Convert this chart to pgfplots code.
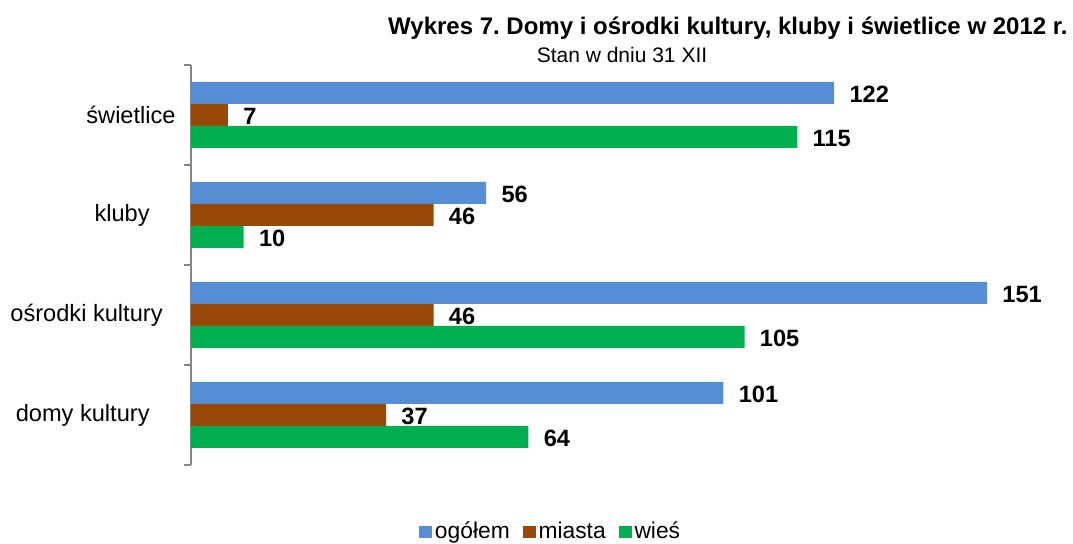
\documentclass[border=0pt]{standalone}
\usepackage{pgfplots}
\pgfplotsset{compat=1.18}
\usepackage{fontspec}
\setmainfont{Liberation Sans}
\frenchspacing
\definecolor{cblue}{HTML}{558ED5}
\definecolor{cbrown}{HTML}{984807}
\definecolor{cgreen}{HTML}{00B050}
\definecolor{axisgray}{HTML}{868686}
\pgfplotsset{sqleg/.style={legend image code/.code={\fill[##1] (0pt,-3.2pt) rectangle (6.4pt,3.2pt);}}}
\begin{document}
\begin{tikzpicture}
\path[use as bounding box] (-95.5pt,-39.5pt) rectangle (441pt,232.5pt);
\begin{axis}[
  at={(0pt,0pt)}, anchor=south west,
  scale only axis,
  width=421.75pt, height=200pt,
  xmin=0, xmax=160,
  ymin=-0.5, ymax=3.5,
  xbar, bar width=11pt,
  axis x line=none,
  axis y line=left,
  axis line style={-, draw=axisgray, line width=0.7pt},
  ytick={0,1,2,3},
  yticklabels={{domy kultury\kern20.5pt},{ośrodki kultury\kern14pt},{kluby\kern20.5pt},{świetlice\kern7.5pt}},
  yticklabel style={font=\fontsize{11.8}{14}\selectfont, inner sep=0pt},
  minor ytick={-0.5,0.5,1.5,2.5,3.5},
  major tick length=0pt,
  minor tick length=3.5pt,
  tick align=outside,
  minor tick style={draw=axisgray, line width=0.7pt},
  clip=false,
  nodes near coords,
  /pgf/number format/assume math mode=true,
  every node near coord/.append style={font=\fontsize{11.8}{14}\selectfont\bfseries, anchor=west, inner sep=0pt, xshift=7.5pt, yshift=-0.8pt, text=black},
  legend columns=3,
  legend style={at={(0.427,-0.1675)}, anchor=center, draw=none, fill=none,
    font=\fontsize{11.4}{13}\selectfont,
    /tikz/every even column/.append style={column sep=5pt},
    nodes={inner sep=1.5pt}},
]
\addplot[fill=cblue, draw=none, bar shift=11pt, sqleg] coordinates {(101,0) (151,1) (56,2) (122,3)};
\addplot[fill=cbrown, draw=none, bar shift=0pt, sqleg] coordinates {(37,0) (46,1) (46,2) (7,3)};
\addplot[fill=cgreen, draw=none, bar shift=-11pt, sqleg] coordinates {(64,0) (105,1) (10,2) (115,3)};
\legend{ogółem, miasta, wieś}
\end{axis}
\node[anchor=east, inner sep=0pt, font=\fontsize{12}{14}\selectfont\bfseries] at (438.5pt,218.5pt) {Wykres 7. Domy i ośrodki kultury, kluby i świetlice w 2012 r.};
\node[inner sep=0pt, font=\fontsize{10.5}{12}\selectfont] at (215.5pt,205pt) {Stan w dniu 31 XII};
\end{tikzpicture}
\end{document}
